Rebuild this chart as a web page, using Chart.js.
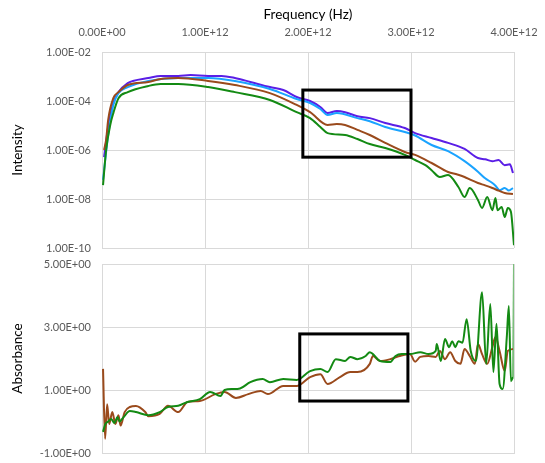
<!DOCTYPE html>
<html><head><meta charset="utf-8">
<script src="https://cdn.jsdelivr.net/npm/chart.js@4/dist/chart.umd.min.js"></script>
<style>
html,body{margin:0;padding:0;background:#fff;}
#wrap{position:relative;width:545px;height:463px;overflow:hidden;}
#c1{position:absolute;left:0;top:0;}
#c2{position:absolute;left:0;top:254px;}
</style></head><body>
<div id="wrap"><canvas id="c1" width="545" height="254"></canvas><canvas id="c2" width="545" height="209"></canvas></div>
<script>
// ---- data (frequency in THz) ----
const purpleF = [0.02,0.06,0.11,0.16,0.25,0.30,0.45,0.57,0.74,0.86,1.03,1.16,1.29,1.44,1.63,1.76,1.89,2.02,2.12,2.19,2.28,2.36,2.48,2.60,2.75,2.94,3.04,3.20,3.36,3.52,3.65,3.72,3.79,3.85,3.91,3.96,3.99];
const purpleI = [5.1e-7,8.7e-6,8.3e-5,2.3e-4,5.4e-4,6.6e-4,8.7e-4,1.05e-3,1.05e-3,1.15e-3,1.05e-3,1.05e-3,8.7e-4,6.0e-4,3.7e-4,2.8e-4,1.45e-4,1.0e-4,5.7e-5,3.2e-5,3.9e-5,3.5e-5,2.4e-5,2.0e-5,1.26e-5,7.9e-6,4.9e-6,3.1e-6,1.95e-6,1.1e-6,4.7e-7,4.2e-7,3.5e-7,3.9e-7,2.4e-7,2.6e-7,1.15e-7];

const blueF = [0.01,0.06,0.11,0.16,0.25,0.45,0.74,1.03,1.29,1.63,1.89,2.02,2.12,2.19,2.28,2.48,2.60,2.75,2.94,3.04,3.20,3.36,3.52,3.65,3.72,3.79,3.82,3.86,3.91,3.95,3.99];
const blueI = [6.0e-8,4.1e-6,6.9e-5,2.1e-4,3.7e-4,6.6e-4,8.7e-4,8.7e-4,6.6e-4,3.1e-4,1.2e-4,8.3e-5,4.7e-5,2.7e-5,3.2e-5,2.0e-5,1.5e-5,8.7e-6,5.4e-6,3.9e-6,1.6e-6,9.0e-7,3.5e-7,1.3e-7,7.0e-8,4.5e-8,3.5e-8,2.3e-8,2.8e-8,2.2e-8,2.8e-8];

const brownF = [0.02,0.04,0.06,0.11,0.16,0.25,0.45,0.57,0.74,1.03,1.29,1.63,1.89,2.02,2.19,2.28,2.36,2.48,2.60,2.75,2.94,3.04,3.20,3.36,3.45,3.52,3.58,3.65,3.72,3.79,3.85,3.91,3.99];
const brownI = [1.0e-6,2.6e-6,1.7e-5,1.3e-4,2.3e-4,4.5e-4,6.0e-4,7.9e-4,8.7e-4,6.6e-4,4.5e-4,2.1e-4,6.9e-5,3.5e-5,1.05e-5,1.15e-5,1.05e-5,6.6e-6,4.1e-6,1.95e-6,8.3e-7,6.3e-7,2.95e-7,1.26e-7,1.0e-7,7.9e-8,6.0e-8,4.5e-8,3.6e-8,2.8e-8,2.2e-8,1.75e-8,1.6e-8];

const greenF = [0.01,0.04,0.08,0.11,0.16,0.25,0.45,0.57,0.74,1.03,1.29,1.63,1.89,2.02,2.12,2.19,2.36,2.48,2.60,2.75,2.94,3.04,3.14,3.20,3.28,3.36,3.46,3.52,3.57,3.65,3.69,3.74,3.79,3.82,3.84,3.88,3.91,3.94,3.97,4.00];
const greenI = [3.7e-8,1.0e-6,1.05e-5,3.2e-5,1.3e-4,2.3e-4,4.1e-4,4.9e-4,4.9e-4,3.7e-4,2.3e-4,1.1e-4,3.5e-5,2.0e-5,8.7e-6,4.9e-6,4.1e-6,2.8e-6,1.75e-6,1.2e-6,6.3e-7,3.9e-7,2.4e-7,1.5e-7,7.9e-8,9.5e-8,3.1e-8,1.2e-8,2.8e-8,9.1e-9,4.3e-9,1.2e-8,3.5e-9,1.1e-8,3.5e-9,4.7e-9,1.85e-9,4.3e-9,3.0e-9,1.3e-10];

const absBrownF = [0.01,0.03,0.05,0.07,0.10,0.13,0.16,0.18,0.22,0.27,0.33,0.42,0.45,0.56,0.64,0.74,0.83,0.95,1.10,1.19,1.30,1.42,1.54,1.61,1.76,1.89,2.02,2.12,2.19,2.31,2.41,2.48,2.60,2.63,2.70,2.80,2.89,2.99,3.04,3.09,3.17,3.24,3.28,3.33,3.38,3.43,3.48,3.52,3.57,3.62,3.65,3.69,3.74,3.79,3.82,3.86,3.91,3.94,3.99];
const absBrown  = [1.67,-0.55,0.55,-0.08,0.30,-0.08,0.20,-0.13,0.30,0.46,0.49,0.30,0.17,0.24,0.50,0.30,0.62,0.65,0.87,0.94,0.75,0.87,0.97,0.87,1.13,1.13,1.41,1.50,1.19,1.41,1.57,1.57,1.83,2.08,1.92,1.98,2.08,2.14,1.90,2.05,2.08,2.05,2.24,1.98,2.20,1.92,1.83,2.30,2.08,1.83,2.46,2.14,1.83,2.36,2.68,2.24,1.60,2.24,2.30];

const absGreenF = [0.01,0.03,0.06,0.09,0.12,0.15,0.17,0.21,0.27,0.33,0.45,0.56,0.64,0.74,0.83,0.95,1.05,1.15,1.19,1.27,1.34,1.44,1.56,1.63,1.76,1.89,2.02,2.12,2.19,2.27,2.36,2.41,2.48,2.56,2.60,2.63,2.70,2.80,2.85,2.91,2.99,3.09,3.17,3.24,3.25,3.29,3.33,3.37,3.40,3.43,3.46,3.50,3.54,3.58,3.63,3.69,3.73,3.77,3.80,3.83,3.86,3.89,3.93,3.95,3.97,3.99];
const absGreen  = [-0.33,-0.10,0.00,0.08,-0.05,0.14,0.00,0.14,0.33,0.30,0.20,0.30,0.46,0.50,0.62,0.71,0.94,0.81,1.00,1.03,1.05,1.25,1.35,1.25,1.35,1.32,1.60,1.67,1.57,1.98,1.92,2.05,1.98,2.08,2.20,2.14,1.92,1.89,2.08,2.14,2.14,2.20,2.14,2.24,2.46,1.92,2.62,2.36,2.55,2.36,2.55,2.50,3.25,2.24,1.92,4.10,1.83,3.73,1.57,3.10,1.19,1.03,2.68,3.67,1.28,1.41];
// final rise of the green series at the right edge (drawn lighter)
const absGreenEdgeF = [3.99, 4.00];
const absGreenEdge  = [1.41, 5.00];

const xTicks = [0, 1e12, 2e12, 3e12, 4e12];
const intensityTicks = [1e-2, 1e-4, 1e-6, 1e-8, 1e-10];
const absTicks = [-1, 1, 3, 5];
// highlight boxes: [fMin THz, fMax THz, yLow, yHigh]
const topBox = [1.95, 3.0, 5.1e-7, 2.8e-4];
const botBox = [1.92, 2.97, 0.65, 2.78];

// ---- helpers ----
function sci(v){
  if (v === 0) return '0.00E+00';
  let e = Math.floor(Math.log10(Math.abs(v)) + 1e-9);
  let m = v / Math.pow(10, e);
  if (Math.abs(m) >= 9.995) { m /= 10; e += 1; }
  return m.toFixed(2) + 'E' + (e < 0 ? '-' : '+') + String(Math.abs(e)).padStart(2, '0');
}
const pts = (f, y) => f.map((x, i) => ({x: x * 1e12, y: y[i]}));
const FONT = 'Lato, "Liberation Sans", sans-serif';
const GRID = '#d9d9d9';
const TICKC = '#595959';

function boxPlugin(box){
  return {
    id: 'box',
    afterDatasetsDraw(chart){
      const {ctx, scales:{x, y}} = chart;
      const x1 = x.getPixelForValue(box[0]*1e12), x2 = x.getPixelForValue(box[1]*1e12);
      const y1 = y.getPixelForValue(box[3]), y2 = y.getPixelForValue(box[2]);
      ctx.save();
      ctx.strokeStyle = '#000'; ctx.lineWidth = 3;
      ctx.strokeRect(x1, y1, x2 - x1, y2 - y1);
      ctx.restore();
    }
  };
}
function ds(data, color, order){
  return {data, borderColor: color, backgroundColor: color, borderWidth: 2, pointRadius: 0,
    cubicInterpolationMode: 'monotone', order, fill: false};
}
const fitX = h => s => { s.height = h; s.paddingLeft = 0; s.paddingRight = 0; };
const fitY = w => s => { s.width = w; s.paddingTop = 0; s.paddingBottom = 0; };

Chart.defaults.font.family = FONT;
Chart.defaults.animation = false;

new Chart(document.getElementById('c1'), {
  type: 'line',
  data: { datasets: [
    ds(pts(purpleF, purpleI), '#5a1ee6', 3),
    ds(pts(blueF, blueI), '#1aa3ff', 2),
    ds(pts(brownF, brownI), '#9a4a1c', 1),
    ds(pts(greenF, greenI), '#138a13', 0)
  ]},
  options: {
    responsive: false, animation: false,
    layout: {padding: {left: 0, right: 31, top: 0, bottom: 6}},
    plugins: {legend: {display: false}, tooltip: {enabled: false}},
    scales: {
      x: {
        type: 'linear', position: 'top', min: 0, max: 4e12,
        afterBuildTicks: s => { s.ticks = xTicks.map(v => ({value: v})); },
        afterFit: fitX(52),
        ticks: {callback: v => sci(v), color: TICKC, font: {size: 11}, padding: 13, maxRotation: 0},
        grid: {color: GRID, drawTicks: false, lineWidth: 1},
        border: {color: GRID},
        title: {display: true, text: 'Frequency (Hz)', color: '#000', font: {size: 13.5}, padding: {top: 7, bottom: 0}}
      },
      y: {
        type: 'logarithmic', min: 1e-10, max: 1e-2,
        afterBuildTicks: s => { s.ticks = intensityTicks.map(v => ({value: v})); },
        afterFit: fitY(102),
        ticks: {callback: v => sci(v), color: TICKC, font: {size: 11}, padding: 11},
        grid: {color: GRID, drawTicks: false},
        border: {color: GRID},
        title: {display: true, text: 'Intensity', color: '#000', font: {size: 13.5}, padding: {top: 10, bottom: 0}}
      }
    }
  },
  plugins: [boxPlugin(topBox)]
});

new Chart(document.getElementById('c2'), {
  type: 'line',
  data: { datasets: [
    ds(pts(absBrownF, absBrown), '#9a4a1c', 1),
    ds(pts(absGreenF, absGreen), '#138a13', 0),
    ds(pts(absGreenEdgeF, absGreenEdge), '#7cc07c', 2)
  ]},
  options: {
    responsive: false, animation: false,
    layout: {padding: {left: 0, right: 31, top: 10, bottom: 10}},
    plugins: {legend: {display: false}, tooltip: {enabled: false}},
    scales: {
      x: {
        type: 'linear', position: 'bottom', min: 0, max: 4e12,
        afterBuildTicks: s => { s.ticks = xTicks.map(v => ({value: v})); },
        afterFit: fitX(0),
        ticks: {display: false},
        grid: {color: GRID, drawTicks: false},
        border: {color: GRID}
      },
      y: {
        type: 'linear', min: -1, max: 5,
        afterBuildTicks: s => { s.ticks = absTicks.map(v => ({value: v})); },
        afterFit: fitY(102),
        ticks: {callback: v => sci(v), color: TICKC, font: {size: 11}, padding: 11},
        grid: {color: GRID, drawTicks: false},
        border: {color: GRID},
        title: {display: true, text: 'Absorbance', color: '#000', font: {size: 13.5}, padding: {top: 10, bottom: 0}}
      }
    }
  },
  plugins: [boxPlugin(botBox)]
});
</script>
</body></html>
